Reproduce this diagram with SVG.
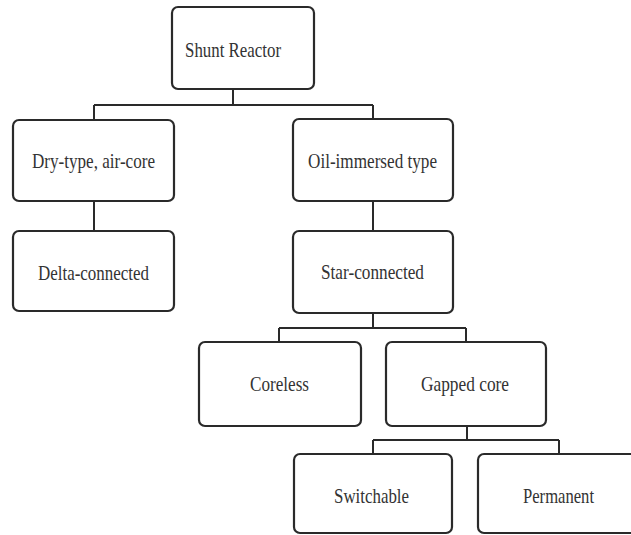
<svg xmlns="http://www.w3.org/2000/svg" width="631" height="535" viewBox="0 0 631 535">
<style>
.box{fill:#fff;stroke:#2a2a2a;stroke-width:2.2}
.t{font-family:"Liberation Serif","Times New Roman",serif;font-size:21px;fill:#333;text-anchor:middle}
.c{fill:none;stroke:#2a2a2a;stroke-width:2}
</style>
<rect width="631" height="535" fill="#fff"/>
<g id="connectors">
<path class="c" d="M233 89V105M94 105H373M94 105V120M373 105V119"/>
<path class="c" d="M94 201V231"/>
<path class="c" d="M373 201V231"/>
<path class="c" d="M373 313V328M279 328H466M279 328V342M466 328V342"/>
<path class="c" d="M467 426V440M373 440H559M373 440V454M559 440V454"/>
</g>
<g id="shunt"><rect class="box" x="172" y="7" width="142" height="82" rx="6"/><text class="t" x="233" y="57" textLength="96" lengthAdjust="spacingAndGlyphs">Shunt Reactor</text></g>
<g id="dry"><rect class="box" x="13" y="120" width="161" height="81" rx="6"/><text class="t" x="93.5" y="168" textLength="123" lengthAdjust="spacingAndGlyphs">Dry-type, air-core</text></g>
<g id="delta"><rect class="box" x="13" y="231" width="161" height="80" rx="6"/><text class="t" x="93.5" y="280" textLength="111" lengthAdjust="spacingAndGlyphs">Delta-connected</text></g>
<g id="oil"><rect class="box" x="293" y="119" width="160" height="82" rx="6"/><text class="t" x="372.5" y="168" textLength="129" lengthAdjust="spacingAndGlyphs">Oil-immersed type</text></g>
<g id="star"><rect class="box" x="293" y="231" width="160" height="82" rx="6"/><text class="t" x="372.5" y="279" textLength="103" lengthAdjust="spacingAndGlyphs">Star-connected</text></g>
<g id="coreless"><rect class="box" x="199" y="342" width="162" height="84" rx="6"/><text class="t" x="279.5" y="391" textLength="59" lengthAdjust="spacingAndGlyphs">Coreless</text></g>
<g id="gapped"><rect class="box" x="386" y="342" width="160" height="84" rx="6"/><text class="t" x="465" y="391" textLength="88" lengthAdjust="spacingAndGlyphs">Gapped core</text></g>
<g id="switchable"><rect class="box" x="294" y="454" width="158" height="79" rx="6"/><text class="t" x="371.5" y="503" textLength="75" lengthAdjust="spacingAndGlyphs">Switchable</text></g>
<g id="permanent"><rect class="box" x="478" y="454" width="160" height="79" rx="6"/><text class="t" x="558.5" y="503" textLength="71" lengthAdjust="spacingAndGlyphs">Permanent</text></g>
</svg>
